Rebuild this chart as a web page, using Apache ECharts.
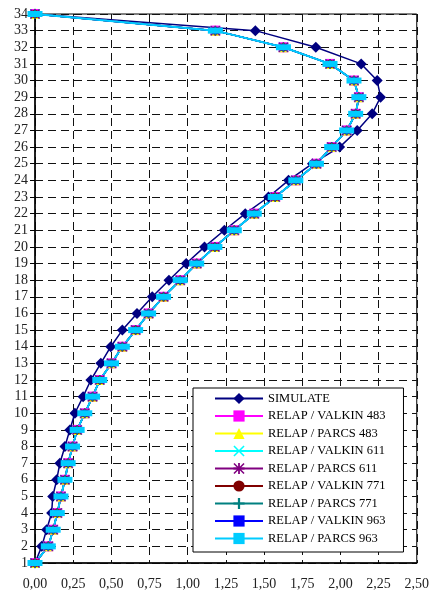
<!DOCTYPE html>
<html>
<head>
<meta charset="utf-8">
<script src="https://cdn.jsdelivr.net/npm/echarts@6/dist/echarts.min.js"></script>
<style>
  html, body { margin: 0; padding: 0; background: #fff; }
  #chart { width: 432px; height: 596px; }
</style>
</head>
<body>
<div id="chart"></div>
<script>
  // level numbers, bottom (1) to top (34)
  var levels = [1,2,3,4,5,6,7,8,9,10,11,12,13,14,15,16,17,18,19,20,21,22,23,24,25,26,27,28,29,30,31,32,33,34];

  var simulate = [0.00,0.044,0.076,0.109,0.116,0.142,0.163,0.196,0.228,0.261,0.315,0.366,0.431,0.496,0.572,0.668,0.768,0.877,0.990,1.110,
                  1.240,1.377,1.529,1.660,1.817,1.995,2.110,2.208,2.263,2.241,2.136,1.839,1.443,0.00];

  // the eight RELAP curves lie on top of each other at this scale
  var relapCurve = [0.00,0.087,0.119,0.146,0.170,0.196,0.217,0.246,0.276,0.326,0.377,0.424,0.501,0.572,0.659,0.744,0.842,0.951,1.059,1.178,
                    1.305,1.436,1.573,1.708,1.843,1.943,2.041,2.100,2.121,2.089,1.932,1.627,1.181,0.00];

  var xTicks = ['0,00','0,25','0,50','0,75','1,00','1,25','1,50','1,75','2,00','2,25','2,50'];

  var relapNames = ['RELAP / VALKIN 483','RELAP / PARCS 483','RELAP / VALKIN 611','RELAP / PARCS 611',
                    'RELAP / VALKIN 771','RELAP / PARCS 771','RELAP / VALKIN 963','RELAP / PARCS 963'];

  var crossPath = 'path://M0,1 L1,0 L5,4 L9,0 L10,1 L6,5 L10,9 L9,10 L5,6 L1,10 L0,9 L4,5 Z';
  var plusPath = 'path://M4,0 L6,0 L6,4 L10,4 L10,6 L6,6 L6,10 L4,10 L4,6 L0,6 L0,4 L4,4 Z';
  var starPath = 'path://M0,1 L1,0 L5,4 L9,0 L10,1 L6,5 L10,9 L9,10 L5,6 L1,10 L0,9 L4,5 Z M4.2,0 L5.8,0 L5.8,10 L4.2,10 Z M0,4.2 L10,4.2 L10,5.8 L0,5.8 Z';

  var relapStyle = [
    { color: '#ff00ff', symbol: 'rect', size: 10 },
    { color: '#ffff00', symbol: 'triangle', size: 10 },
    { color: '#00ffff', symbol: crossPath, size: 10 },
    { color: '#800080', symbol: starPath, size: 10 },
    { color: '#800000', symbol: 'circle', size: 8 },
    { color: '#008080', symbol: plusPath, size: 9 },
    { color: '#0000ff', symbol: 'rect', size: 6 },
    { color: '#00ccff', symbol: 'rect', size: [15, 6] }
  ];

  function pairs(xs) {
    return xs.map(function (v, i) { return [v, levels[i]]; });
  }

  var font = 'Liberation Serif';
  var myChart = echarts.init(document.getElementById('chart'), null, { renderer: 'canvas' });

  var series = [{
    name: 'SIMULATE',
    type: 'line',
    data: pairs(simulate),
    symbol: 'diamond',
    symbolSize: 11,
    itemStyle: { color: '#000080' },
    lineStyle: { color: '#000080', width: 1.5 }
  }];
  relapNames.forEach(function (n, i) {
    var st = relapStyle[i];
    series.push({
      name: n,
      type: 'line',
      data: pairs(relapCurve),
      symbol: st.symbol,
      symbolSize: st.size,
      itemStyle: { color: st.color },
      lineStyle: { color: st.color, width: i === 7 ? 2 : 1.5 }
    });
  });

  var option = {
    animation: false,
    backgroundColor: '#fff',
    grid: {
      left: 35, right: 14, top: 14, bottom: 33,
      show: true, borderColor: '#000', borderWidth: 1
    },
    legend: {
      orient: 'vertical',
      left: 193, top: 388,
      padding: [4, 18, 7, 21],
      itemWidth: 48, itemHeight: 14, itemGap: 4.5,
      backgroundColor: '#fff',
      borderColor: '#000', borderWidth: 1,
      textStyle: { fontFamily: font, fontSize: 12.5, color: '#000' },
      data: ['SIMULATE'].concat(relapNames)
    },
    xAxis: {
      type: 'value',
      min: 0, max: 2.5, interval: 0.25,
      axisLine: { lineStyle: { color: '#000', width: 1.5 } },
      axisTick: { show: false },
      splitLine: { lineStyle: { color: '#111', type: [8, 5], width: 1 } },
      axisLabel: {
        fontFamily: font, fontSize: 14, color: '#222', margin: 14,
        formatter: function (v) { return xTicks[Math.round(v / 0.25)]; }
      }
    },
    yAxis: {
      type: 'value',
      min: 1, max: 34, interval: 1,
      axisLine: { show: true, lineStyle: { color: '#000', width: 1.5 } },
      axisTick: { show: true, length: 5, lineStyle: { color: '#000' } },
      splitLine: { lineStyle: { color: '#111', type: [8, 5], width: 1 } },
      axisLabel: { fontFamily: font, fontSize: 14, color: '#222', margin: 7 }
    },
    series: series
  };
  myChart.setOption(option);
</script>
</body>
</html>
